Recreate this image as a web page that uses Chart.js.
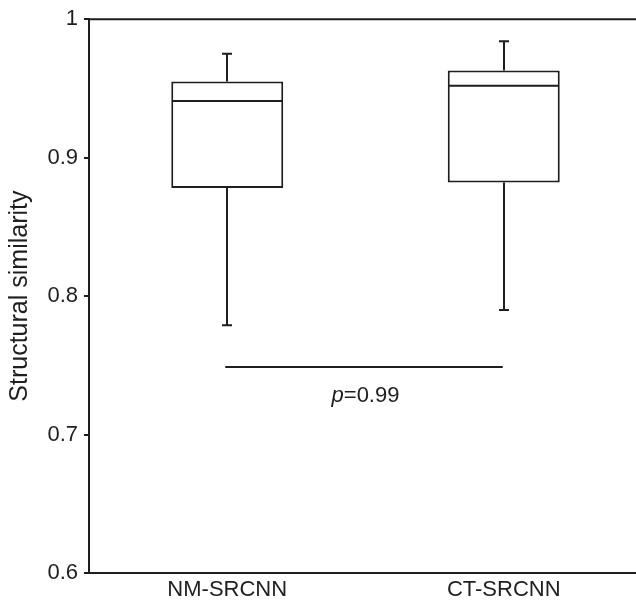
<!DOCTYPE html>
<html><head><meta charset="utf-8">
<script src="https://cdn.jsdelivr.net/npm/chart.js@4/dist/chart.umd.min.js"></script>
<style>html,body{margin:0;padding:0;overflow:hidden;background:#fff}</style>
</head><body>
<canvas id="c" width="642" height="602"></canvas>
<script>
const categories = ['NM-SRCNN', 'CT-SRCNN'];
const whiskerLow = [0.779, 0.790];
const q1 = [0.878, 0.882];
const median = [0.941, 0.952];
const q3 = [0.955, 0.963];
const whiskerHigh = [0.975, 0.984];
const yTicks = [0.6, 0.7, 0.8, 0.9, 1];
const yTitle = 'Structural similarity';
const pLineValue = 0.749;
const pSymbol = 'p';
const pValueText = '=0.99';

const INK = '#1e1e1e';
const FONT = '"Liberation Sans", Arial, sans-serif';
Chart.defaults.font.family = FONT;

const boxExtras = {
  id: 'boxExtras',
  afterDatasetsDraw(chart) {
    const {ctx, chartArea, scales: {x, y}} = chart;
    const meta = chart.getDatasetMeta(0);
    ctx.save();
    ctx.strokeStyle = INK;
    ctx.lineWidth = 2;
    ctx.lineCap = 'butt';
    categories.forEach((c, i) => {
      const cx = Math.round(x.getPixelForValue(i));
      const half = meta.data[i].width / 2;
      const yHi = y.getPixelForValue(whiskerHigh[i]);
      const yQ3 = y.getPixelForValue(q3[i]);
      const yQ1 = y.getPixelForValue(q1[i]);
      const yLo = y.getPixelForValue(whiskerLow[i]);
      const yMed = y.getPixelForValue(median[i]);
      ctx.beginPath();
      ctx.moveTo(cx, yQ3); ctx.lineTo(cx, yHi);
      ctx.moveTo(cx - 5, yHi); ctx.lineTo(cx + 5, yHi);
      ctx.moveTo(cx, yQ1); ctx.lineTo(cx, yLo);
      ctx.moveTo(cx - 5, yLo); ctx.lineTo(cx + 5, yLo);
      ctx.moveTo(cx - half + 1, yMed); ctx.lineTo(cx + half - 1, yMed);
      ctx.stroke();
    });
    // top frame line
    ctx.beginPath();
    ctx.moveTo(chartArea.left, chartArea.top);
    ctx.lineTo(chartArea.right, chartArea.top);
    ctx.stroke();
    // significance line + label
    const x0 = x.getPixelForValue(0), x1 = x.getPixelForValue(1);
    const yl = Math.round(y.getPixelForValue(pLineValue));
    ctx.beginPath();
    ctx.moveTo(x0 - 2, yl); ctx.lineTo(x1 - 1, yl);
    ctx.stroke();
    ctx.fillStyle = INK;
    ctx.textBaseline = 'alphabetic';
    ctx.textAlign = 'left';
    const fi = 'italic 22px ' + FONT, fn = '22px ' + FONT;
    ctx.font = fi; const w1 = ctx.measureText(pSymbol).width;
    ctx.font = fn; const w2 = ctx.measureText(pValueText).width;
    const sx = (x0 + x1) / 2 - (w1 + w2) / 2;
    const by = yl + 35;
    ctx.font = fi; ctx.fillText(pSymbol, sx, by);
    ctx.font = fn; ctx.fillText(pValueText, sx + w1, by);
    ctx.restore();
  }
};

new Chart(document.getElementById('c'), {
  type: 'bar',
  data: {
    labels: categories,
    datasets: [{
      data: categories.map((_, i) => [q1[i], q3[i]]),
      backgroundColor: '#ffffff',
      borderColor: INK,
      borderWidth: 2,
      borderSkipped: false,
      barPercentage: 0.405,
      categoryPercentage: 1
    }]
  },
  options: {
    responsive: false,
    animation: false,
    devicePixelRatio: 1,
    layout: {padding: {top: 18, left: 0, right: 0, bottom: 0}},
    plugins: {legend: {display: false}, tooltip: {enabled: false}},
    scales: {
      x: {
        offset: true,
        grid: {display: false, drawTicks: false},
        border: {display: true, color: INK, width: 2},
        ticks: {color: INK, font: {size: 22}, padding: 4, maxRotation: 0},
        afterFit: s => { s.height = 29; }
      },
      y: {
        min: 0.6, max: 1,
        afterBuildTicks: s => { s.ticks = yTicks.map(v => ({value: v})); },
        grid: {display: true, drawOnChartArea: false, drawTicks: true, tickLength: 5, tickWidth: 2, tickColor: INK, lineWidth: 2, color: INK},
        border: {display: true, color: INK, width: 2},
        ticks: {color: INK, font: {size: 22}, padding: 6, callback: v => String(v)},
        title: {display: true, text: yTitle, color: INK, font: {size: 25}, padding: {top: 5, bottom: 0}},
        afterFit: s => { s.width = 89; }
      }
    }
  },
  plugins: [boxExtras]
});
</script>
</body></html>
